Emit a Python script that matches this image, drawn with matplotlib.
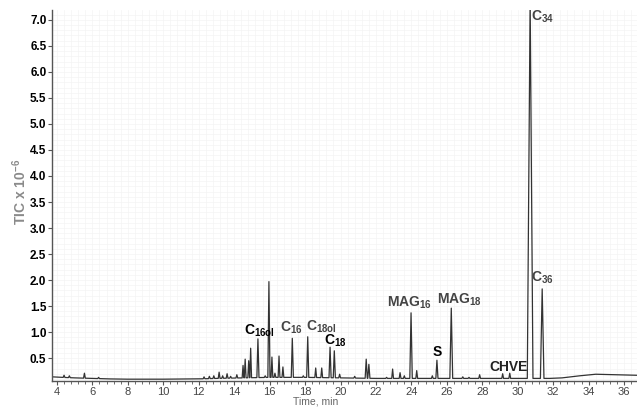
"""Chromatogram (TIC vs retention time) with labelled peaks."""

import numpy as np
import matplotlib
matplotlib.use("Agg")
import matplotlib.pyplot as plt
from matplotlib.ticker import MultipleLocator

# peak apexes: retention time (min), TIC x 10^-6
peak_times = [4.4, 4.7, 5.55, 6.35, 12.3, 12.6, 12.85, 13.15, 13.35, 13.6, 13.8,
              14.15, 14.5, 14.62, 14.82, 14.93, 15.34, 15.75, 15.96, 16.13, 16.3,
              16.53, 16.75, 17.28, 17.9, 18.15, 18.6, 18.94, 19.41, 19.65, 19.95,
              20.8, 21.45, 21.6, 22.6, 22.94, 23.36, 23.6, 23.98, 24.3, 25.18,
              25.44, 26.25, 26.9, 27.25, 27.85, 29.15, 29.55, 30.7, 31.38]
peak_heights = [0.17, 0.16, 0.21, 0.13, 0.14, 0.15, 0.16, 0.23, 0.16, 0.2, 0.15,
                0.18, 0.36, 0.48, 0.45, 0.69, 0.87, 0.16, 1.97, 0.52, 0.21,
                0.54, 0.33, 0.88, 0.16, 0.91, 0.31, 0.31, 0.71, 0.64, 0.19,
                0.15, 0.48, 0.38, 0.13, 0.29, 0.22, 0.16, 1.37, 0.26, 0.16,
                0.46, 1.46, 0.14, 0.13, 0.18, 0.2, 0.21, 7.4, 1.83]
peak_widths = [0.05, 0.05, 0.05, 0.05, 0.05, 0.05, 0.05, 0.05, 0.05, 0.05, 0.05,
               0.05, 0.05, 0.05, 0.05, 0.05, 0.06, 0.05, 0.06, 0.05, 0.05,
               0.05, 0.05, 0.06, 0.05, 0.06, 0.05, 0.05, 0.06, 0.06, 0.05,
               0.05, 0.06, 0.06, 0.05, 0.05, 0.05, 0.05, 0.07, 0.05, 0.05,
               0.06, 0.08, 0.05, 0.05, 0.05, 0.05, 0.05, 0.16, 0.1]

# baseline drift, including the hump after 32 min
base_times = [3.72, 4.3, 5.0, 6.0, 7.0, 8.0, 10.0, 12.0, 13.0, 14.5, 16.0, 18.0,
              20.0, 22.0, 24.0, 26.0, 28.0, 30.0, 31.8, 32.5, 33.5, 34.4, 35.5, 36.73]
base_levels = [0.14, 0.13, 0.12, 0.11, 0.1, 0.095, 0.095, 0.1, 0.11, 0.12, 0.13, 0.13,
               0.12, 0.11, 0.11, 0.11, 0.11, 0.11, 0.11, 0.12, 0.16, 0.19, 0.18, 0.17]

# peak labels: text, x, y (data units), colour
label_texts = [r"C$_{16ol}$", r"C$_{16}$", r"C$_{18ol}$", r"C$_{18}$", r"MAG$_{16}$",
               r"MAG$_{18}$", "S", "CHVE", r"C$_{34}$", r"C$_{36}$"]
label_x = [15.4, 17.2, 18.95, 19.7, 23.87, 26.74, 25.45, 29.5, 31.4, 31.4]
label_y = [1.02, 1.08, 1.1, 0.83, 1.56, 1.62, 0.62, 0.33, 7.06, 2.04]
label_colors = ["black", "#444444", "#444444", "black", "#444444",
                "#444444", "black", "#222222", "#444444", "#444444"]


def build_trace():
    """Joins the baseline points and the peak spikes into one polyline."""

    xs, ys = [], []
    bi = 0
    for t, h, w in zip(peak_times, peak_heights, peak_widths):
        while bi < len(base_times) and base_times[bi] < t - w:
            xs.append(base_times[bi])
            ys.append(base_levels[bi])
            bi += 1
        for px, py in ((t - w, None), (t, h), (t + w, None)):
            xs.append(px)
            ys.append(np.interp(px, base_times, base_levels) if py is None else py)
        while bi < len(base_times) and base_times[bi] <= t + w:
            bi += 1
    xs.extend(base_times[bi:])
    ys.extend(base_levels[bi:])
    return xs, ys


def main():
    plt.rcParams["font.family"] = ["Liberation Sans", "DejaVu Sans"]
    plt.rcParams["mathtext.fontset"] = "custom"
    plt.rcParams["mathtext.bf"] = "Liberation Sans:bold"
    plt.rcParams["mathtext.rm"] = "Liberation Sans:bold"
    plt.rcParams["mathtext.default"] = "bf"

    fig = plt.figure(figsize=(6.37, 4.08), dpi=100)
    ax = fig.add_axes([52 / 637, 27 / 408, 585 / 637, 371 / 408])

    xs, ys = build_trace()
    ax.plot(xs, ys, color="#333333", lw=0.9)

    ax.set_xlim(3.72, 36.73)
    ax.set_ylim(0.06, 7.19)

    ax.xaxis.set_major_locator(MultipleLocator(2))
    ax.xaxis.set_minor_locator(MultipleLocator(0.4))
    ax.set_yticks(np.arange(0.5, 7.01, 0.5))
    ax.set_yticklabels([f"{v:.1f}" for v in np.arange(0.5, 7.01, 0.5)])
    ax.yaxis.set_minor_locator(MultipleLocator(0.1))

    for side in ("top", "right"):
        ax.spines[side].set_visible(False)
    for side in ("left", "bottom"):
        ax.spines[side].set_color("#555555")
        ax.spines[side].set_linewidth(1.0)

    ax.tick_params(axis="x", which="major", length=3, width=0.8, color="#555555",
                   labelsize=8, labelcolor="#444444", pad=1)
    ax.tick_params(axis="x", which="minor", length=2.5, width=0.6, color="#555555")
    ax.tick_params(axis="y", which="major", length=3, width=0.8, color="#555555",
                   labelsize=8.5, pad=1)
    ax.tick_params(axis="y", which="minor", length=0)
    for lbl in ax.get_yticklabels():
        lbl.set_fontweight("bold")

    # faint chart-paper grid
    ax.grid(which="both", color="#f4f4f4", lw=0.5, zorder=0)
    ax.set_axisbelow(True)

    for txt, x, y, c in zip(label_texts, label_x, label_y, label_colors):
        ax.text(x, y, txt, ha="center", va="center", fontsize=10,
                fontweight="bold", color=c)

    fig.text(20 / 637, 1 - 192 / 408, r"TIC x 10$^{-6}$", rotation=90,
             ha="center", va="center", fontsize=10, fontweight="bold", color="#8a8a8a")
    fig.text(316 / 637, 1 - 402 / 408, "Time, min", ha="center", va="center",
             fontsize=7.5, color="#666666")

    fig.savefig("out.png", dpi=100)


if __name__ == "__main__":
    main()
